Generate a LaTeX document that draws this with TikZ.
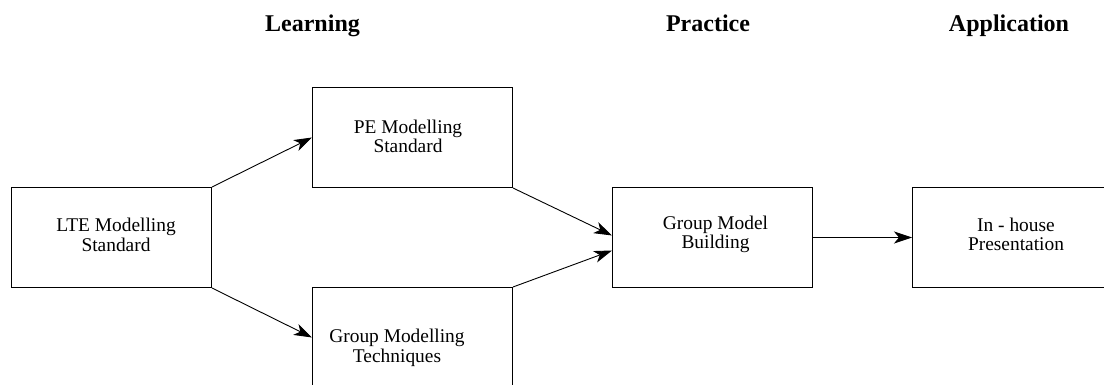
\documentclass[tikz,border=0pt]{standalone}
\usepackage{fontspec}
\setmainfont{Liberation Serif}
\usetikzlibrary{arrows.meta}
\begin{document}
\begin{tikzpicture}[x=1pt,y=-1pt,
  box/.style={draw, line width=1pt, minimum width=200pt, minimum height=100pt, inner sep=0pt, anchor=north west},
  lbl/.style={align=center, inner sep=0pt, font=\fontsize{19.4}{19.5}\selectfont},
  head/.style={anchor=base, inner sep=0pt, font=\fontsize{24}{28}\selectfont\bfseries},
  arr/.style={line width=0.9pt, -{Stealth[length=18pt,width=12pt,inset=5pt]}}]
\useasboundingbox (0,0) rectangle (1104,385);
\clip (0,0) rectangle (1104,385);
% headers
\node[head] (learn) at (312.5,32) {Learning};
\node[head] (pract) at (708,32) {Practice};
\node[head] (appl) at (1009,32) {Application};
% boxes
\node[box] (lte) at (11,187) {};
\node[box] (pe) at (312,87) {};
\node[box] (gmt) at (312,287) {};
\node[box] (gmb) at (612,187) {};
\node[box] (ih) at (912,187) {};
% texts
\node[lbl] (ltet) at (116,235) {LTE Modelling\\Standard};
\node[lbl] (pet) at (408,136.4) {PE Modelling\\Standard};
\node[lbl] (gmtt) at (397,348) {Group Modelling\\Techniques};
\node[lbl] (gmbt) at (715.5,234.2) {Group Model\\Building};
\node[lbl] (iht) at (1016,234.2) {In - house\\Presentation};
% connectors
\draw[arr] (lte.north east) -- (pe.west);
\draw[arr] (lte.south east) -- (gmt.west);
\draw[arr] (pe.south east) -- ([yshift=2pt]gmb.west);
\draw[arr] (gmt.north east) -- ([yshift=-13pt]gmb.west);
\draw[arr] (gmb.east) -- (ih.west);
\end{tikzpicture}
\end{document}
